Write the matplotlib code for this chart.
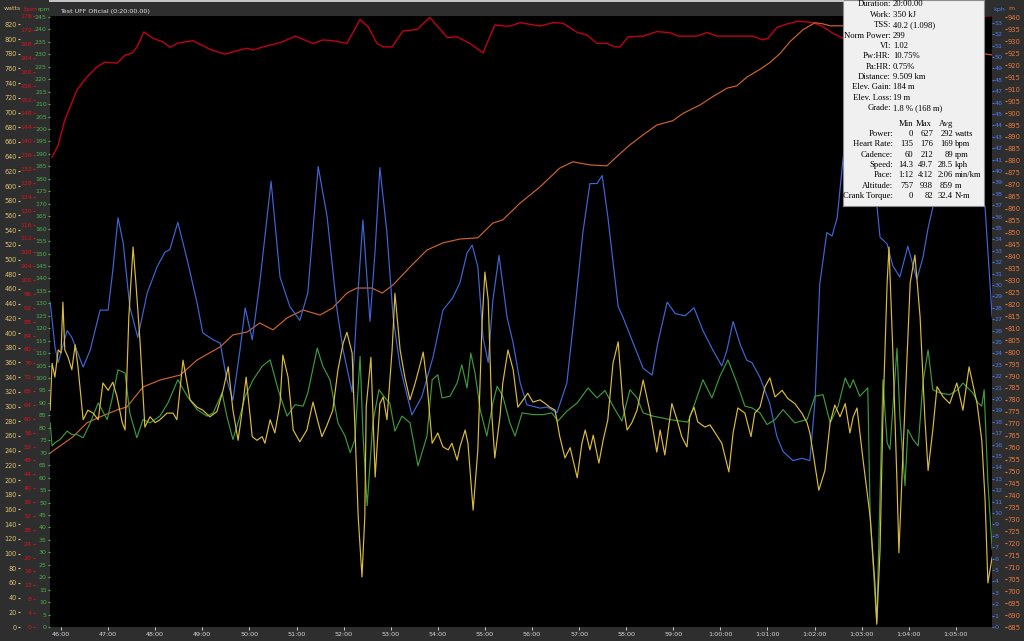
import matplotlib
matplotlib.use("Agg")
import matplotlib.pyplot as plt
from matplotlib.lines import Line2D

# ---- ride data (time in minutes of the ride clock) ----
hr_t = [45.81, 45.94, 46.08, 46.34, 46.55, 46.76, 46.93, 47.19, 47.36, 47.51, 47.61, 47.76, 47.95,
        48.17, 48.31, 48.48, 48.80, 49.16, 49.48, 49.74, 49.95, 50.08, 50.29, 50.59, 50.71, 50.97,
        51.35, 51.56, 51.77, 52.07, 52.35, 52.52, 52.71, 52.84, 53.03, 53.26, 53.56, 53.83, 54.20,
        54.41, 54.68, 54.96, 55.21, 55.43, 55.53, 55.75, 56.17, 56.45, 56.66, 56.96, 57.17, 57.38,
        57.59, 57.76, 57.87, 58.04, 58.36, 58.65, 58.93, 59.10, 59.50, 59.72, 59.93, 60.69, 60.90,
        61.01, 61.20, 61.41, 61.65, 61.97, 62.18, 62.39, 62.60, 63.20, 64.00, 65.00, 65.77]
hr_bpm = [135.4, 138.9, 146.1, 154.8, 158.5, 161.4, 162.8, 162.5, 164.8, 165.4, 167.1, 171.5, 169.7,
          168.6, 167.1, 168.3, 169.0, 166.5, 165.1, 166.1, 166.8, 166.3, 167.2, 168.2, 168.7, 170.3,
          168.2, 169.2, 169.0, 168.2, 175.1, 173.0, 168.2, 167.2, 167.2, 171.8, 172.2, 175.7, 169.9,
          170.1, 168.2, 165.5, 173.5, 173.2, 173.2, 174.2, 173.2, 174.2, 174.0, 171.4, 170.6, 168.2,
          168.2, 167.2, 167.2, 170.1, 170.3, 171.6, 171.3, 170.3, 170.3, 171.3, 170.3, 170.3, 169.2,
          169.7, 172.8, 173.8, 174.6, 174.2, 173.0, 171.1, 169.7, 172.0, 174.0, 175.5, 176.2]

alt_t = [45.77, 46.25, 46.55, 46.83, 47.19, 47.40, 47.74, 48.10, 48.53, 48.89, 49.38, 49.65, 49.95,
         50.22, 50.50, 50.80, 51.14, 51.50, 51.77, 52.07, 52.28, 52.60, 52.82, 53.05, 53.41, 53.77,
         54.11, 54.47, 54.85, 55.17, 55.38, 55.75, 56.17, 56.59, 56.87, 57.23, 57.59, 57.80, 58.08,
         58.36, 58.65, 58.99, 59.21, 59.57, 59.84, 60.14, 60.35, 60.56, 60.84, 61.05, 61.27, 61.48,
         61.75, 62.01, 62.18, 62.33, 62.60, 63.50, 64.50, 65.77]
alt_m = [757.8, 764.5, 770.4, 772.9, 775.8, 777.1, 785.4, 788.3, 790.4, 796.7, 802.2, 807.2, 808.4,
         812.2, 809.3, 814.3, 817.6, 815.5, 818.5, 824.7, 826.8, 826.8, 824.7, 828.1, 835.6, 842.7,
         845.7, 847.3, 847.8, 854.0, 855.3, 862.4, 869.1, 877.0, 879.6, 878.3, 877.9, 881.8, 886.7,
         890.9, 895.0, 896.8, 899.9, 903.4, 906.9, 910.4, 911.4, 915.0, 918.3, 921.1, 925.0, 929.9,
         934.8, 937.8, 937.3, 936.5, 936.5, 933.0, 928.0, 924.3]

spd_t = [45.77, 45.87, 45.94, 46.13, 46.23, 46.47, 46.62, 46.83, 47.00, 47.10, 47.21, 47.32, 47.46,
         47.63, 47.83, 48.04, 48.21, 48.31, 48.48, 48.68, 48.89, 49.01, 49.23, 49.38, 49.52, 49.65,
         49.80, 49.91, 50.06, 50.22, 50.46, 50.65, 50.86, 51.07, 51.24, 51.46, 51.65, 51.86, 51.99,
         52.18, 52.28, 52.41, 52.56, 52.67, 52.77, 52.92, 53.05, 53.20, 53.45, 53.66, 53.90, 54.11,
         54.32, 54.47, 54.62, 54.73, 54.85, 54.96, 55.07, 55.17, 55.30, 55.47, 55.60, 55.75, 55.89,
         56.17, 56.32, 56.53, 56.74, 56.91, 57.08, 57.23, 57.38, 57.49, 57.61, 57.83, 57.93, 58.12,
         58.36, 58.55, 58.67, 58.87, 59.04, 59.25, 59.44, 59.63, 59.84, 60.03, 60.14, 60.27, 60.42,
         60.56, 60.67, 60.84, 61.05, 61.20, 61.33, 61.54, 61.73, 61.90, 62.01, 62.11, 62.26, 62.37,
         62.48, 62.60, 62.75, 62.96, 63.18, 63.32, 63.39, 63.54, 63.66, 63.81, 63.98, 64.17, 64.30,
         64.41, 64.51, 64.73, 65.04, 65.36, 65.62, 65.77]
spd_kph = [28.5, 24.6, 23.2, 26.0, 25.4, 22.8, 24.3, 27.8, 27.8, 31.3, 35.9, 33.7, 28.1,
           25.4, 29.3, 31.6, 32.9, 33.1, 35.5, 32.2, 28.4, 25.8, 25.2, 24.9, 21.7, 19.9,
           24.3, 28.0, 25.2, 30.2, 39.1, 30.7, 28.1, 26.9, 29.3, 40.4, 36.0, 27.8, 24.3,
           20.6, 27.8, 35.7, 26.8, 33.1, 40.3, 34.6, 27.2, 22.8, 18.6, 20.2, 23.7, 27.8,
           28.9, 30.2, 32.8, 33.5, 31.6, 25.4, 23.2, 28.7, 32.6, 27.2, 24.9, 21.4, 19.5,
           19.2, 19.3, 18.8, 21.4, 27.8, 34.6, 38.9, 38.9, 39.6, 36.0, 28.1, 27.2, 25.2,
           22.7, 22.1, 24.9, 28.5, 27.5, 27.3, 28.0, 26.0, 24.3, 22.9, 24.3, 26.8, 24.8,
           23.4, 23.2, 21.9, 19.6, 16.7, 15.4, 14.6, 14.8, 14.6, 19.9, 30.1, 34.6, 34.3,
           35.9, 40.9, 46.0, 49.7, 44.0, 37.1, 34.2, 33.6, 31.7, 30.7, 33.4, 30.5, 32.4,
           35.0, 36.8, 42.0, 44.0, 41.0, 36.8, 27.2]

cad_t = [45.77, 45.81, 45.87, 45.98, 46.13, 46.23, 46.34, 46.47, 46.62, 46.79, 46.98, 47.08, 47.21,
         47.36, 47.46, 47.61, 47.74, 47.89, 48.10, 48.27, 48.48, 48.68, 48.89, 49.10, 49.23, 49.42,
         49.52, 49.65, 49.80, 49.91, 50.08, 50.27, 50.44, 50.61, 50.80, 50.97, 51.14, 51.24, 51.44,
         51.56, 51.71, 51.88, 52.03, 52.14, 52.24, 52.35, 52.41, 52.50, 52.62, 52.75, 52.88, 52.98,
         53.09, 53.24, 53.41, 53.58, 53.77, 53.88, 54.00, 54.09, 54.26, 54.41, 54.51, 54.62, 54.70,
         54.79, 54.90, 55.04, 55.17, 55.26, 55.38, 55.53, 55.64, 55.79, 56.02, 56.23, 56.42, 56.55,
         56.74, 56.96, 57.19, 57.38, 57.55, 57.72, 57.91, 58.08, 58.23, 58.36, 58.57, 58.93, 59.31,
         59.46, 59.63, 59.82, 59.99, 60.16, 60.35, 60.52, 60.67, 60.84, 60.99, 61.16, 61.33, 61.58,
         61.84, 62.01, 62.18, 62.33, 62.50, 62.65, 62.75, 62.82, 62.96, 63.13, 63.18, 63.32, 63.45,
         63.54, 63.60, 63.75, 63.81, 63.92, 63.98, 64.09, 64.20, 64.30, 64.41, 64.51, 64.66, 64.87,
         65.04, 65.15, 65.36, 65.47, 65.55, 65.60, 65.68, 65.77]
cad_rpm = [82.0, 72.7, 74.0, 75.3, 78.7, 77.3, 77.3, 76.0, 82.0, 90.0, 83.3, 91.3, 103.3,
           102.0, 86.0, 76.0, 83.3, 82.0, 84.7, 90.0, 99.3, 92.7, 87.3, 84.7, 86.0, 94.0,
           84.7, 75.3, 84.7, 92.7, 99.3, 104.7, 107.3, 95.3, 84.7, 89.3, 88.7, 94.0, 112.0,
           104.7, 99.3, 82.0, 76.7, 70.0, 75.3, 108.7, 78.0, 48.7, 82.0, 95.3, 92.0, 90.0,
           78.7, 84.7, 82.0, 64.7, 76.7, 99.3, 101.3, 92.0, 92.7, 98.0, 105.3, 96.0, 110.0,
           102.0, 87.3, 76.7, 90.0, 96.7, 92.7, 82.0, 76.7, 86.0, 85.3, 85.3, 86.0, 82.7,
           86.7, 90.0, 96.0, 92.0, 95.0, 88.7, 82.7, 95.3, 92.0, 86.0, 84.7, 83.3, 82.3,
           90.0, 99.3, 92.0, 100.7, 107.3, 98.0, 88.7, 88.0, 86.0, 81.3, 83.3, 87.3, 82.0,
           83.3, 92.7, 93.3, 82.0, 88.7, 100.0, 96.0, 99.3, 92.7, 96.0, 44.7, 1.0, 99.3,
           74.0, 71.3, 112.0, 84.7, 56.7, 79.3, 75.3, 72.7, 98.0, 111.3, 95.3, 94.0, 93.3,
           95.3, 98.0, 94.0, 90.0, 88.7, 95.3, 58.0, 31.3]

pwr_t = [45.77, 45.81, 45.87, 45.94, 46.00, 46.04, 46.08, 46.15, 46.23, 46.30, 46.36, 46.47, 46.57,
         46.68, 46.79, 46.89, 47.00, 47.10, 47.19, 47.30, 47.36, 47.44, 47.53, 47.59, 47.68, 47.78,
         47.89, 48.00, 48.10, 48.25, 48.38, 48.46, 48.59, 48.74, 48.89, 49.01, 49.16, 49.31, 49.44,
         49.55, 49.65, 49.76, 49.84, 49.93, 50.06, 50.16, 50.27, 50.33, 50.44, 50.54, 50.65, 50.71,
         50.82, 50.93, 51.07, 51.22, 51.35, 51.46, 51.54, 51.65, 51.77, 51.88, 51.99, 52.07, 52.18,
         52.24, 52.31, 52.39, 52.45, 52.48, 52.58, 52.67, 52.77, 52.84, 52.92, 53.03, 53.09, 53.20,
         53.30, 53.41, 53.52, 53.62, 53.69, 53.77, 53.88, 54.00, 54.11, 54.22, 54.30, 54.41, 54.47,
         54.58, 54.64, 54.75, 54.85, 54.94, 55.00, 55.07, 55.15, 55.21, 55.32, 55.38, 55.49, 55.60,
         55.70, 55.81, 55.91, 56.02, 56.17, 56.28, 56.38, 56.49, 56.59, 56.70, 56.81, 56.96, 57.06,
         57.13, 57.23, 57.30, 57.42, 57.51, 57.61, 57.72, 57.83, 57.93, 58.02, 58.12, 58.23, 58.36,
         58.51, 58.65, 58.72, 58.82, 58.97, 59.08, 59.18, 59.29, 59.35, 59.44, 59.52, 59.67, 59.78,
         59.89, 60.03, 60.18, 60.27, 60.37, 60.52, 60.65, 60.73, 60.84, 60.95, 61.05, 61.16, 61.31,
         61.43, 61.58, 61.73, 61.84, 61.90, 61.97, 62.09, 62.22, 62.33, 62.43, 62.54, 62.65, 62.75,
         62.82, 62.90, 63.03, 63.18, 63.28, 63.32, 63.39, 63.45, 63.54, 63.58, 63.66, 63.75, 63.79,
         63.88, 64.03, 64.13, 64.24, 64.34, 64.41, 64.51, 64.60, 64.73, 64.87, 65.02, 65.15, 65.28,
         65.45, 65.55, 65.62, 65.68, 65.77]
pwr_w = [295, 359, 340, 377, 373, 442, 377, 367, 350, 384, 354, 282, 295,
         291, 282, 332, 322, 333, 313, 278, 268, 422, 517, 468, 386, 272,
         286, 278, 282, 291, 291, 282, 363, 309, 299, 295, 286, 293, 322,
         354, 295, 254, 291, 340, 259, 254, 259, 250, 282, 264, 304, 370,
         340, 268, 252, 268, 306, 278, 259, 275, 295, 350, 386, 401, 373,
         272, 150, 68, 150, 300, 367, 204, 304, 313, 282, 377, 454, 377,
         340, 309, 332, 356, 374, 332, 250, 264, 245, 241, 250, 227, 245,
         268, 250, 159, 241, 414, 483, 445, 286, 230, 286, 332, 377, 350,
         299, 309, 318, 306, 309, 304, 299, 295, 259, 230, 244, 203, 250,
         268, 241, 261, 223, 254, 282, 359, 388, 304, 268, 278, 295, 336,
         291, 238, 268, 234, 304, 282, 259, 245, 286, 299, 279, 272, 275,
         264, 250, 211, 264, 298, 291, 259, 291, 299, 327, 339, 313, 322,
         311, 304, 291, 278, 264, 236, 186, 213, 278, 302, 286, 304, 264,
         286, 298, 227, 150, 60, 5, 105, 286, 468, 517, 377, 196, 101,
         241, 468, 506, 422, 286, 213, 268, 327, 313, 304, 332, 295, 354,
         304, 254, 173, 60, 95]

time_ticks = list(range(46, 66))
time_labels = ["%d:00" % m if m < 60 else "1:%02d:00" % (m - 60) for m in time_ticks]

summary_labels = ["Duration", "Work", "TSS", "Norm Power", "VI", "Pw:HR", "Pa:HR",
                  "Distance", "Elev. Gain", "Elev. Loss", "Grade"]
summary_values = ["20:00.00", "350 kJ", "40.2 (1.098)", "299", "1.02", "10.75%", "0.75%",
                  "9.509 km", "184 m", "19 m", "1.8 % (168 m)"]
stat_names = ["Power", "Heart Rate", "Cadence", "Speed", "Pace", "Altitude", "Crank Torque"]
stat_min = ["0", "135", "60", "14.3", "1:12", "757", "0"]
stat_max = ["627", "176", "212", "49.7", "4:12", "938", "82"]
stat_avg = ["292", "169", "89", "28.5", "2:06", "859", "32.4"]
stat_unit = ["watts", "bpm", "rpm", "kph", "min/km", "m", "N-m"]

# ---- colours ----
BG = "#2e2e2e"
C_W, C_W_LBL = "#dcbc3a", "#dcc474"
C_HR, C_HR_LBL = "#c00018", "#e01020"
C_CAD, C_CAD_LBL = "#3c9a3c", "#4cb04c"
C_SPD, C_SPD_LBL = "#3f66d8", "#4e78ee"
C_ALT, C_ALT_LBL = "#d0642a", "#e8783a"

W, H = 1024, 641


def px_rect(x0, y0, x1, y1):
    return [x0 / W, 1 - y1 / H, (x1 - x0) / W, (y1 - y0) / H]


def pt(px):
    return px * 72 / 100


fig = plt.figure(figsize=(10.24, 6.41), dpi=100, facecolor=BG)
fig.add_artist(Line2D([50 / W, 843 / W], [1 - 1 / H] * 2, color="#c8c8c8", lw=1.4))

ax = fig.add_axes(px_rect(50, 16, 992, 627), facecolor="black")
ax.set_xlim(45.766, 65.767)

ax_alt = ax.twinx()
ax_spd = ax.twinx()
ax_cad = ax.twinx()
ax_pwr = ax.twinx()

# base axis carries heart rate
ax.plot(hr_t, hr_bpm, color=C_HR, lw=1.0)
ax.set_ylim(0, 176.1)
ax_alt.plot(alt_t, alt_m, color=C_ALT, lw=0.85)
ax_alt.set_ylim(685, 940.6)
ax_spd.plot(spd_t, spd_kph, color=C_SPD, lw=0.85)
ax_spd.set_ylim(0, 53.6)
ax_cad.plot(cad_t, cad_rpm, color=C_CAD, lw=0.85)
ax_cad.set_ylim(0, 245.4)
ax_pwr.plot(pwr_t, pwr_w, color=C_W, lw=0.85)
ax_pwr.set_ylim(0, 831.3)

axis_setup = [
    (ax, "left", 15.5, list(range(0, 177, 4)), C_HR_LBL, 4.5),
    (ax_alt, "right", 13, list(range(685, 941, 5)), C_ALT_LBL, 4.9),
    (ax_spd, "right", 0, list(range(0, 54)), C_SPD_LBL, 4.6),
    (ax_cad, "left", 0.5, list(range(0, 246, 5)), C_CAD_LBL, 4.5),
    (ax_pwr, "left", 30.5, list(range(0, 821, 20)), C_W_LBL, 4.7),
]
for a, side, off, ticks, col, size in axis_setup:
    for s in a.spines.values():
        s.set_visible(False)
    if side == "left":
        a.yaxis.tick_left()
    else:
        a.yaxis.tick_right()
    a.spines[side].set_position(("outward", pt(off)))
    a.set_yticks(ticks)
    a.tick_params(axis="y", length=1.6, width=0.8, color=col, labelcolor=col,
                  labelsize=size, pad=0.3, direction="out")

ax.set_xticks(time_ticks)
ax.set_xticklabels(time_labels)
ax.tick_params(axis="x", length=2, width=0.7, color="#d0d0d0", labelcolor="#d8d8d8",
               labelsize=4.6, pad=1.5, direction="out")

# header labels for the axes
hdr = dict(fontsize=4.5, va="center")
fig.text(4 / W, 1 - 9 / H, "watts", color=C_W_LBL, **hdr)
fig.text(23 / W, 1 - 9 / H, "bpm", color=C_HR_LBL, **hdr)
fig.text(37 / W, 1 - 9 / H, "rpm", color=C_CAD_LBL, **hdr)
fig.text(993 / W, 1 - 9 / H, "kph", color=C_SPD_LBL, **hdr)
fig.text(1008 / W, 1 - 9 / H, "m", color=C_ALT_LBL, **hdr)
fig.text(60 / W, 1 - 11 / H, "Test UFF Oficial (0:20:00.00)", color="#e0e0e0",
         fontsize=4.6, va="center")

# summary box
box = fig.add_axes(px_rect(843, 0, 984, 206), facecolor="#f0f0f0")
box.set_xlim(843, 984)
box.set_ylim(206, 0)
box.set_xticks([])
box.set_yticks([])
for s in box.spines.values():
    s.set_color("#8c8c8c")
    s.set_linewidth(0.8)

txt = dict(fontsize=6.2, family="Liberation Serif", color="black", va="center")
for i, (lab, val) in enumerate(zip(summary_labels, summary_values)):
    y = 4.5 + 10.35 * i
    box.text(891, y, lab + ":", ha="right", **txt)
    box.text(893, y, val, ha="left", **txt)

box.text(913, 123.5, "Min", ha="right", **txt)
box.text(932, 123.5, "Max", ha="right", **txt)
box.text(953, 123.5, "Avg", ha="right", **txt)
for j, name in enumerate(stat_names):
    y = 134 + 10.35 * j
    box.text(893, y, name + ":", ha="right", **txt)
    box.text(913, y, stat_min[j], ha="right", **txt)
    box.text(933, y, stat_max[j], ha="right", **txt)
    box.text(953, y, stat_avg[j], ha="right", **txt)
    box.text(955, y, stat_unit[j], ha="left", **txt)

fig.savefig("out.png", dpi=100, facecolor=fig.get_facecolor())
